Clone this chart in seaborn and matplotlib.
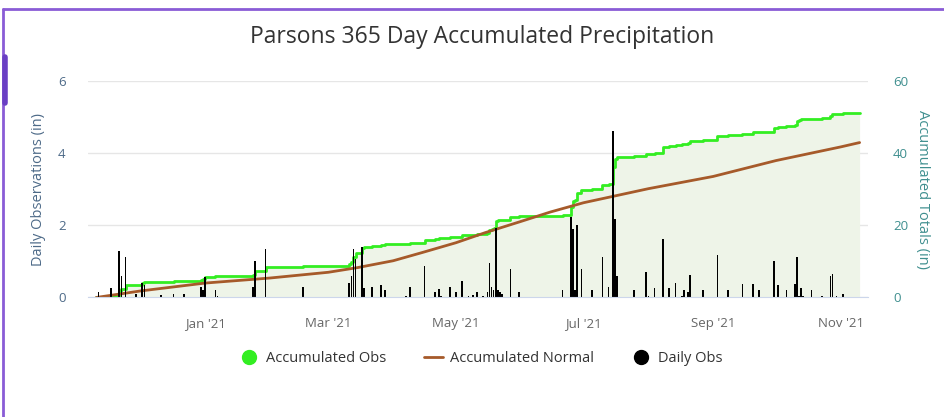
import pandas as pd
import numpy as np
import matplotlib.pyplot as plt
import matplotlib.dates as mdates
from matplotlib.lines import Line2D
import seaborn as sns

sns.set_style("white")
plt.rcParams['font.family'] = ['Open Sans', 'DejaVu Sans']

# ============================================
# Data
# ============================================

start_date = "2020-11-10"
end_date = "2021-11-10"

# daily observations: day offset from 1 Jan 2021 and amount (in)
obs_day = [-51, -45, -41, -40, -38, -33, -30, -29, -21, -15, -10, -2, -1, 0, 5, 6,
           23, 24, 29, 47, 69, 70, 71, 72, 75, 76, 80, 84, 86, 96, 98, 105, 110,
           112, 113, 117, 120, 123, 126, 128, 130, 133, 135, 136, 137, 138, 139,
           140, 141, 142, 146, 150, 171, 175, 176, 177, 178, 180, 185, 190, 193,
           195, 196, 197, 205, 211, 212, 215, 219, 222, 225, 228, 229, 231, 232,
           238, 245, 250, 257, 262, 265, 272, 274, 278, 282, 283, 284, 285, 286,
           290, 295, 299, 300, 302, 305]
obs_val = [0.16, 0.25, 1.30, 0.60, 1.13, 0.10, 0.41, 0.35, 0.07, 0.10, 0.10, 0.30, 0.20, 0.58, 0.20, 0.05,
           0.30, 1.02, 1.34, 0.30, 0.41, 0.60, 1.34, 1.07, 1.39, 0.27, 0.30, 0.35, 0.20, 0.05, 0.30, 0.87, 0.15,
           0.23, 0.05, 0.30, 0.15, 0.46, 0.05, 0.07, 0.15, 0.05, 0.15, 0.95, 0.30, 0.20, 1.92,
           0.20, 0.15, 0.10, 0.78, 0.15, 0.20, 2.23, 1.91, 0.20, 2.02, 0.80, 0.20, 1.12, 0.30,
           4.63, 2.19, 0.60, 0.20, 0.71, 0.05, 0.25, 1.62, 0.25, 0.40, 0.05, 0.20, 0.15, 0.62,
           0.20, 1.19, 0.20, 0.38, 0.38, 0.20, 1.02, 0.35, 0.20, 0.38, 1.12, 0.05, 0.27, 0.05,
           0.20, 0.05, 0.60, 0.66, 0.05, 0.10]

# accumulated normal (in)
normal_dates = ["2020-11-10", "2020-12-01", "2021-01-01", "2021-02-01", "2021-03-01",
                "2021-03-15", "2021-04-01", "2021-04-15", "2021-05-01", "2021-05-15",
                "2021-06-01", "2021-06-15", "2021-07-01", "2021-08-01", "2021-09-01",
                "2021-10-01", "2021-11-01", "2021-11-10"]
normal_vals = [0.0, 1.8, 4.0, 5.4, 7.0, 8.3, 10.2, 12.5, 15.2, 18.0,
               21.1, 23.7, 26.3, 30.2, 33.6, 38.0, 41.8, 43.0]

tick_dates = ["2021-01-01", "2021-03-01", "2021-05-01", "2021-07-01", "2021-09-01", "2021-11-01"]

# ============================================
# Build series
# ============================================

days = pd.date_range(start_date, end_date, freq="D")
daily = pd.Series(0.0, index=days)
jan1 = pd.Timestamp("2021-01-01")
for d, v in zip(obs_day, obs_val):
    daily[jan1 + pd.Timedelta(days=d)] += v

df = pd.DataFrame({"date": days, "daily": daily.values, "accum": daily.cumsum().values})
normal = pd.DataFrame({"date": pd.to_datetime(normal_dates), "normal": normal_vals})
print("Total accumulated:", round(df["accum"].iloc[-1], 2))

green = "#33ee22"
brown = "#a65a2a"
fill = "#eef4e8"

# ============================================
# Plot
# ============================================

fig = plt.figure(figsize=(9.45, 4.17), dpi=100)
ax = fig.add_axes([0.093, 0.2866, 0.8255, 0.5184])
ax2 = ax.twinx()
ax.set_zorder(ax2.get_zorder() + 1)
ax.patch.set_visible(False)

# accumulated (right axis)
ax2.fill_between(df["date"], df["accum"], step="post", color=fill, lw=0)
sns.lineplot(x="date", y="accum", data=df, ax=ax2, color=green, lw=2, drawstyle="steps-post")
sns.lineplot(x="date", y="normal", data=normal, ax=ax2, color=brown, lw=2)
ax2.set_ylim(0, 60)
ax2.set_yticks([0, 20, 40, 60])
ax2.grid(axis="y", color="#e6e6e6", lw=1)
ax2.set_axisbelow(True)
ax2.set_ylabel("Accumulated Totals (in)", color="#3f8f8f", fontsize=10.5, rotation=-90, labelpad=16)
ax2.tick_params(axis="y", colors="#3f8f8f", labelsize=9.5, length=0, pad=18)

# daily obs (left axis)
ax.bar(df["date"], df["daily"], width=0.8, color="black", lw=0)
ax.set_ylim(0, 6)
ax.set_yticks([0, 2, 4, 6])
ax.set_ylabel("Daily Observations (in)", color="#4d6a88", fontsize=10.5, labelpad=9)
ax.tick_params(axis="y", colors="#4d6a88", labelsize=9.5, length=0, pad=16)

ax.set_xlim(pd.Timestamp("2020-11-06"), pd.Timestamp("2021-11-14"))
ax.set_xticks(pd.to_datetime(tick_dates))
ax.xaxis.set_major_formatter(mdates.DateFormatter("%b '%y"))
ax.tick_params(axis="x", colors="#ccd6eb", labelcolor="#666666", labelsize=9.5,
               length=10, width=1, pad=4)
ax.set_xlabel("")
ax2.set_xlabel("")

for a in (ax, ax2):
    for s in a.spines.values():
        s.set_visible(False)
ax.spines["bottom"].set_visible(True)
ax.spines["bottom"].set_color("#ccd6eb")

fig.text(0.51, 0.912, "Parsons 365 Day Accumulated Precipitation", ha="center", va="center",
         fontsize=16.5, color="#333333")

handles = [
    Line2D([], [], marker="o", ls="", markerfacecolor=green, markeredgecolor=green, markersize=10),
    Line2D([], [], color=brown, lw=2),
    Line2D([], [], marker="o", ls="", markerfacecolor="black", markeredgecolor="black", markersize=10),
]
leg = fig.legend(handles, ["Accumulated Obs", "Accumulated Normal", "Daily Obs"],
                 loc="center", bbox_to_anchor=(0.509, 0.141), ncol=3, frameon=False,
                 fontsize=10.5, handlelength=1.3, handletextpad=0.5, columnspacing=2.6)
for t in leg.get_texts():
    t.set_color("#333333")

# purple frame
purple = "#8a5cd6"
fig.add_artist(Line2D([0.0035, 1.0], [1 - 9 / 417, 1 - 9 / 417], color=purple, lw=2))
fig.add_artist(Line2D([0.0035, 0.0035], [0.0, 1 - 9 / 417], color=purple, lw=2))
fig.add_artist(Line2D([0.005, 0.005], [1 - 57 / 417, 1 - 103 / 417], color="#6a3fc4", lw=4))

plt.savefig("out.png", dpi=100)
